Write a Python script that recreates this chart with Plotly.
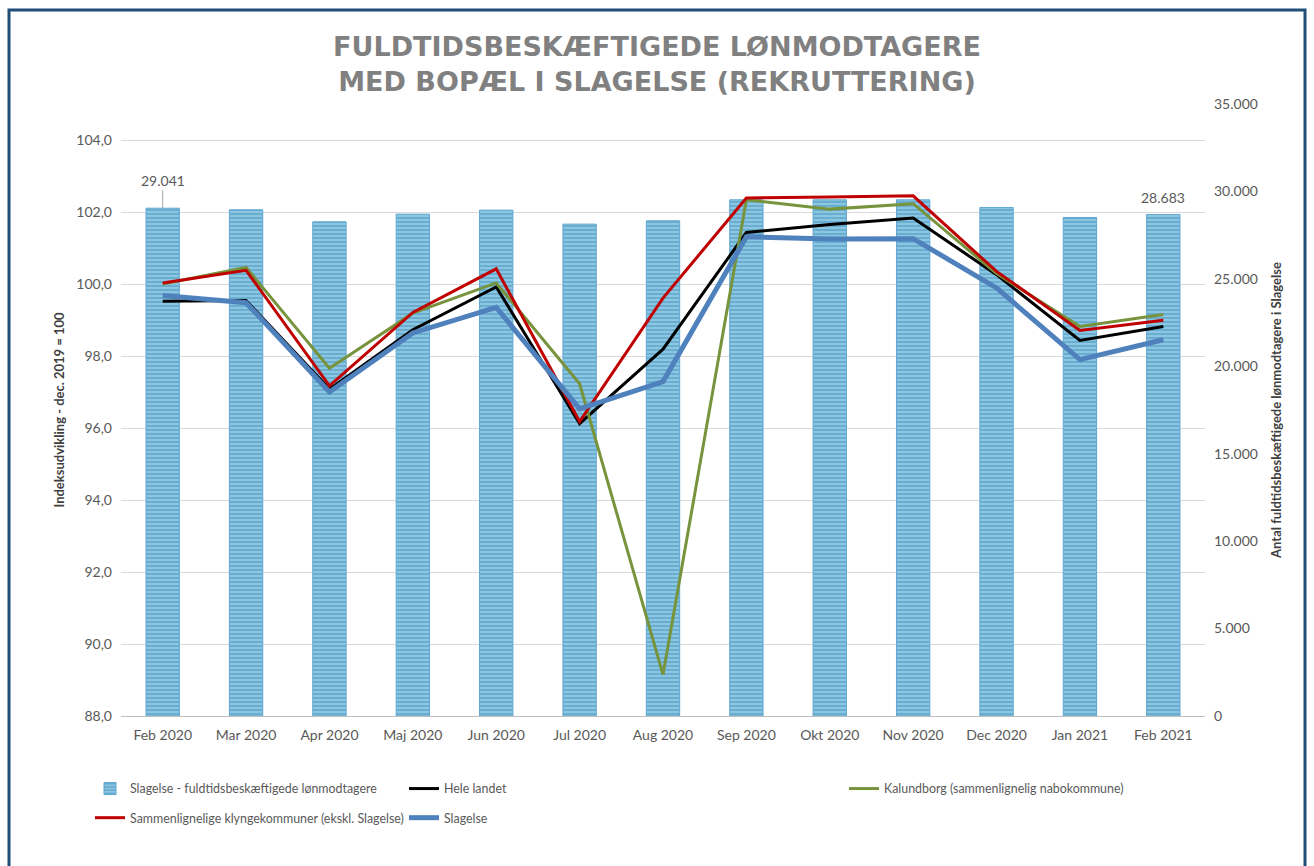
import plotly.graph_objects as go

months = ["Feb 2020", "Mar 2020", "Apr 2020", "Maj 2020", "Jun 2020", "Jul 2020", "Aug 2020",
          "Sep 2020", "Okt 2020", "Nov 2020", "Dec 2020", "Jan 2021", "Feb 2021"]

bar_counts = [29041, 28950, 28260, 28700, 28930, 28130, 28320, 29520, 29520, 29520, 29080, 28510, 28683]

hele_landet = [99.52, 99.54, 97.08, 98.73, 99.92, 96.12, 98.19, 101.43, 101.65, 101.83, 100.26, 98.43, 98.82]
kalundborg = [100.00, 100.46, 97.66, 99.19, 100.03, 97.23, 89.15, 102.34, 102.08, 102.23, 100.29, 98.82, 99.15]
klynge = [100.03, 100.38, 97.17, 99.21, 100.42, 96.18, 99.61, 102.39, 102.42, 102.45, 100.35, 98.71, 98.99]
slagelse = [99.68, 99.48, 97.00, 98.64, 99.35, 96.53, 97.29, 101.31, 101.25, 101.26, 99.89, 97.90, 98.45]

FONT = "Lato"
GRAY = "#595959"

L, R, T, B = 121, 109, 104, 150
W, H = 1314, 866
PW, PH = W - L - R, H - T - B


def px_x(p):
    return (p - L) / PW


def px_y(p):
    return (H - B - p) / PH


fig = go.Figure()

fig.add_trace(go.Bar(
    x=months, y=bar_counts, name="Slagelse - fuldtidsbeskæftigede lønmodtagere",
    yaxis="y", legend="legend", legendgroup="a",
    marker=dict(color="#8cc6e0", line=dict(color="#5fa6d2", width=1),
                pattern=dict(shape="-", fgcolor="#4593c2", size=4, solidity=0.5)),
))

fig.add_trace(go.Scatter(x=months, y=hele_landet, name="Hele landet", mode="lines",
                         yaxis="y2", legend="legend2", legendgroup="c",
                         line=dict(color="#000000", width=3)))
fig.add_trace(go.Scatter(x=months, y=kalundborg, name="Kalundborg (sammenlignelig nabokommune)", mode="lines",
                         yaxis="y2", legend="legend3", legendgroup="e",
                         line=dict(color="#77933c", width=3)))
fig.add_trace(go.Scatter(x=months, y=klynge, name="Sammenlignelige klyngekommuner (ekskl. Slagelse)", mode="lines",
                         yaxis="y2", legend="legend", legendgroup="b",
                         line=dict(color="#c00000", width=3)))
fig.add_trace(go.Scatter(x=months, y=slagelse, name="Slagelse", mode="lines",
                         yaxis="y2", legend="legend2", legendgroup="d",
                         line=dict(color="#4f81bd", width=5)))

legend_common = dict(orientation="v", yanchor="top", xanchor="left", bgcolor="rgba(0,0,0,0)",
                     font=dict(family=FONT, size=12.4, color=GRAY), tracegroupgap=10,
                     itemwidth=30, traceorder="grouped")

fig.update_layout(
    width=W, height=H,
    margin=dict(l=L, r=R, t=T, b=B),
    paper_bgcolor="white", plot_bgcolor="white",
    separators=",.",
    bargap=0.6,
    title=dict(text="FULDTIDSBESKÆFTIGEDE LØNMODTAGERE<br>MED BOPÆL I SLAGELSE (REKRUTTERING)",
               font=dict(family="DejaVu Sans", size=27, color="#808080", weight="bold"),
               x=0.5, xref="container", xanchor="center", y=1 - 56 / H, yanchor="middle"),
    xaxis=dict(type="category", showline=True, linecolor="#bfbfbf", linewidth=1, ticks="",
               tickfont=dict(family=FONT, size=14, color=GRAY), showgrid=False, fixedrange=True,
               ticklabelstandoff=6),
    yaxis=dict(side="right", range=[0, 35000], dtick=5000, tick0=0, tickformat=",d",
               showgrid=False, zeroline=False, ticks="",
               tickfont=dict(family=FONT, size=14, color=GRAY), ticklabelstandoff=8,
               title=dict(text="<b>Antal fuldtidsbeskæftigede lønmodtagere i Slagelse</b>",
                          font=dict(family=FONT, size=13, color="#404040"), standoff=14)),
    yaxis2=dict(side="left", overlaying="y", range=[88, 105], dtick=2, tick0=88, tickformat=".1f",
                showgrid=True, gridcolor="#d9d9d9", gridwidth=1, zeroline=False, ticks="",
                tickfont=dict(family=FONT, size=14, color=GRAY), ticklabelstandoff=8,
                title=dict(text="<b>Indeksudvikling - dec. 2019 = 100</b>",
                           font=dict(family=FONT, size=13, color="#404040"), standoff=8)),
    legend=dict(x=px_x(90), y=px_y(774), **legend_common),
    legend2=dict(x=px_x(404), y=px_y(774), **legend_common),
    legend3=dict(x=px_x(844), y=px_y(774), **legend_common),
    annotations=[
        dict(x=months[0], y=bar_counts[0], xref="x", yref="y", text="29.041",
             showarrow=True, ax=0, ay=-28, arrowhead=0, arrowwidth=1, arrowcolor="#a6a6a6",
             standoff=0, font=dict(family=FONT, size=14, color=GRAY)),
        dict(x=months[-1], y=bar_counts[-1], xref="x", yref="y", text="28.683",
             showarrow=False, yanchor="middle", yshift=17,
             font=dict(family=FONT, size=14, color=GRAY)),
    ],
    shapes=[
        dict(type="rect", xref="paper", yref="paper",
             x0=px_x(9), x1=px_x(1305), y0=px_y(880), y1=px_y(10),
             line=dict(color="#1f4e79", width=3), fillcolor="rgba(0,0,0,0)", layer="above"),
    ],
)

fig.write_html("out.html", config={"displayModeBar": False},
               post_script="document.body.style.margin='0';document.body.style.overflow='hidden';")
